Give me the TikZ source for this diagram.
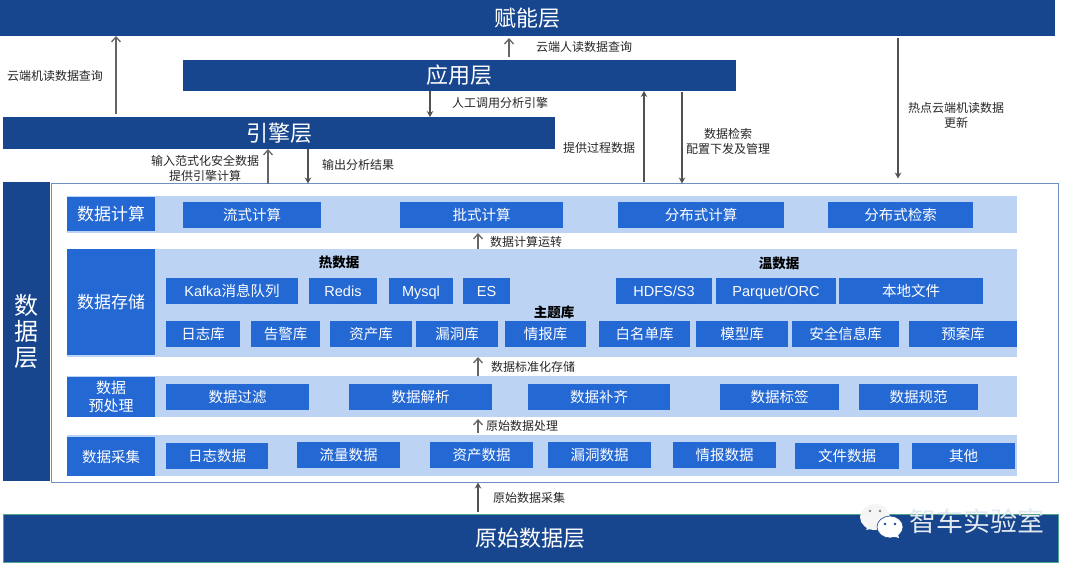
\documentclass[tikz,border=0pt]{standalone}
\usepackage{fontspec}
\setmainfont{Noto Sans CJK SC}
\newfontfamily\latin{Liberation Sans}
\usetikzlibrary{arrows.meta, positioning}
\definecolor{navy}{HTML}{17468F}
\definecolor{chipblue}{HTML}{2468D4}
\definecolor{lightblue}{HTML}{BDD3F3}
\definecolor{framecol}{HTML}{6F8FC4}
\definecolor{arrowcol}{HTML}{666666}
\definecolor{rawrim}{HTML}{4FA58C}
\tikzstyle{layer} = [fill=navy, text=white, inner sep=0pt, outer sep=0pt, font=\fontsize{22}{26}\selectfont]
\tikzstyle{band} = [fill=lightblue, inner sep=0pt, outer sep=0pt]
\tikzstyle{head} = [fill=chipblue, text=white, inner sep=0pt, outer sep=0pt, minimum width=88pt, align=center, font=\fontsize{15}{18}\selectfont]
\tikzstyle{chip} = [fill=chipblue, text=white, inner sep=0pt, outer sep=0pt, minimum height=26pt, text height=13pt, text depth=2pt, font=\fontsize{14.5}{17}\selectfont]
\tikzstyle{title} = [inner sep=0pt, font=\fontsize{13.5}{16}\bfseries\selectfont]
\tikzstyle{note} = [inner sep=0pt, align=center, text=black!85, font=\fontsize{12}{15}\selectfont]
\tikzstyle{arrow} = [-{Straight Barb[length=5pt, width=9pt]}, arrowcol, line width=1.3pt]
\tikzstyle{arrowb} = [-{Stealth[length=6pt, width=6.5pt]}, arrowcol!80!black, line width=1.2pt]

\begin{document}
\begin{tikzpicture}[x=1pt, y=-1pt]
    \useasboundingbox (0,0) rectangle (1080,570);

    % Place the layers
    \node [layer, minimum width=1055pt, minimum height=36pt] (enable) at (527.5,18) {赋能层};
    \node [layer, minimum width=553pt, minimum height=31pt] (app) at (459.5,75.5) {应用层};
    \node [layer, minimum width=552pt, minimum height=32pt] (engine) at (279,133) {引擎层};
    \node [layer, draw=framecol, fill=white, line width=1pt, minimum width=1007pt, minimum height=299pt] (databox) at (554.5,333) {};
    \node [layer, minimum width=47pt, minimum height=299pt, align=center, font=\fontsize{24}{26}\selectfont] (data) at (26.5,331.5) {数\\据\\层};
    \node [layer, draw=rawrim, line width=0.6pt, minimum width=1055pt, minimum height=48pt] (raw) at (530.5,538) {原始数据层};

    % Place the bands and their heads
    \node [band, minimum width=950pt, minimum height=37pt] (calcband) at (542,214.5) {};
    \node [band, minimum width=950pt, minimum height=108pt] (storeband) at (542,303) {};
    \node [band, minimum width=950pt, minimum height=41pt] (preband) at (542,396.5) {};
    \node [band, minimum width=950pt, minimum height=41pt] (collectband) at (542,455.5) {};
    \node [head, minimum height=34pt, font=\fontsize{17}{20}\selectfont] (calc) at (111,214) {数据计算};
    \node [head, minimum height=106pt, font=\fontsize{17}{20}\selectfont] (store) at (111,302) {数据存储};
    \node [head, minimum height=40pt] (pre) at (111,397) {数据\\预处理};
    \node [head, minimum height=39pt, font=\fontsize{14.5}{17}\selectfont] (collect) at (111,456.5) {数据采集};

    % Data compute row
    \node [chip, minimum width=138pt] (c1) at (252,214.5) {流式计算};
    \node [chip, minimum width=163pt, right=79pt of c1] (c2) {批式计算};
    \node [chip, minimum width=166pt, right=55pt of c2, yshift=-0.5pt] (c3) {分布式计算};
    \node [chip, minimum width=145pt, right=44pt of c3, yshift=0.5pt] (c4) {分布式检索};

    % Hot and warm data row
    \node [title] (hot) at (339,262) {热数据};
    \node [title] (warm) at (779,263) {温数据};
    \node [chip, minimum width=132pt] (s1) at (232,291) {{\latin Kafka}消息队列};
    \node [chip, minimum width=68pt, right=11pt of s1] (s2) {\latin Redis};
    \node [chip, minimum width=64pt, right=12pt of s2] (s3) {\latin Mysql};
    \node [chip, minimum width=47pt, right=10pt of s3] (s4) {\latin ES};
    \node [chip, minimum width=96pt, right=106pt of s4] (s5) {\latin HDFS/S3};
    \node [chip, minimum width=120pt, right=4pt of s5] (s6) {\latin Parquet/ORC};
    \node [chip, minimum width=144pt, right=3pt of s6] (s7) {本地文件};

    % Theme library row
    \node [title] (theme) at (554,312) {主题库};
    \node [chip, minimum width=74pt] (t1) at (203,334) {日志库};
    \node [chip, minimum width=69pt, right=11pt of t1] (t2) {告警库};
    \node [chip, minimum width=82pt, right=10pt of t2] (t3) {资产库};
    \node [chip, minimum width=82pt, right=4pt of t3] (t4) {漏洞库};
    \node [chip, minimum width=81pt, right=7pt of t4] (t5) {情报库};
    \node [chip, minimum width=91pt, right=13pt of t5] (t6) {白名单库};
    \node [chip, minimum width=92pt, right=6pt of t6] (t7) {模型库};
    \node [chip, minimum width=107pt, right=4pt of t7] (t8) {安全信息库};
    \node [chip, minimum width=108pt, right=10pt of t8] (t9) {预案库};

    % Preprocess row
    \node [chip, minimum width=143pt] (p1) at (237.5,397) {数据过滤};
    \node [chip, minimum width=143pt, right=40pt of p1] (p2) {数据解析};
    \node [chip, minimum width=142pt, right=36pt of p2] (p3) {数据补齐};
    \node [chip, minimum width=119pt, right=50pt of p3] (p4) {数据标签};
    \node [chip, minimum width=119pt, right=20pt of p4] (p5) {数据规范};

    % Collect row
    \node [chip, minimum width=102pt] (d1) at (217,456) {日志数据};
    \node [chip, minimum width=103pt, right=29pt of d1, yshift=1pt] (d2) {流量数据};
    \node [chip, minimum width=103pt, right=30pt of d2] (d3) {资产数据};
    \node [chip, minimum width=103pt, right=15pt of d3] (d4) {漏洞数据};
    \node [chip, minimum width=103pt, right=22pt of d4] (d5) {情报数据};
    \node [chip, minimum width=104pt, right=19pt of d5, yshift=-1pt] (d6) {文件数据};
    \node [chip, minimum width=103pt, right=13pt of d6] (d7) {其他};

    % Guides for the vertical connectors
    \coordinate (xmachine) at (116,0);
    \coordinate (xhuman) at (509,0);
    \coordinate (xcall) at (430,0);
    \coordinate (xinput) at (268,0);
    \coordinate (xoutput) at (308,0);
    \coordinate (xprocess) at (644,0);
    \coordinate (xconfig) at (682,0);
    \coordinate (xhot) at (898,0);
    \coordinate (xflow) at (478,0);

    % Connect the nodes
    \draw [arrow, shorten <=3pt] (engine.north -| xmachine) -- (enable.south -| xmachine);
    \draw [arrow, shorten <=3pt, shorten >=2pt] (app.north -| xhuman) -- (enable.south -| xhuman);
    \draw [arrowb] (app.south -| xcall) -- (engine.north -| xcall);
    \draw [arrow] (databox.north -| xinput) -- (engine.south -| xinput);
    \draw [arrowb] (engine.south -| xoutput) -- (databox.north -| xoutput);
    \draw [arrowb, shorten <=2pt] (databox.north -| xprocess) -- (app.south -| xprocess);
    \draw [arrowb, shorten <=1pt] (app.south -| xconfig) -- (databox.north -| xconfig);
    \draw [arrowb, shorten <=2pt, shorten >=5pt] (enable.south -| xhot) -- (databox.north -| xhot);
    \draw [arrow] (storeband.north -| xflow) -- (calcband.south -| xflow);
    \draw [arrow] (preband.north -| xflow) -- (storeband.south -| xflow);
    \draw [arrow, shorten <=2pt, shorten >=2pt] (collectband.north -| xflow) -- (preband.south -| xflow);
    \draw [arrowb, shorten <=2pt] (raw.north -| xflow) -- (databox.south -| xflow);

    % Connector labels
    \node [note] (lmachine) at (55,76) {云端机读数据查询};
    \node [note] (lhuman) at (584,47) {云端人读数据查询};
    \node [note] (lcall) at (500,103) {人工调用分析引擎};
    \node [note] (linput) at (205,168.5) {输入范式化安全数据\\提供引擎计算};
    \node [note] (loutput) at (358,165) {输出分析结果};
    \node [note] (lprocess) at (599,148) {提供过程数据};
    \node [note] (lconfig) at (728,141) {数据检索\\配置下发及管理};
    \node [note] (lhot) at (956,115) {热点云端机读数据\\更新};
    \node [note] (lflow) at (526,242) {数据计算运转};
    \node [note] (lstore) at (533,367) {数据标准化存储};
    \node [note] (lorig) at (522,426) {原始数据处理};
    \node [note] (lcollect) at (529,498) {原始数据采集};

    % Watermark
    \fill [white!92!gray] (875,517) ellipse (15 and 13);
    \fill [white!92!gray] (866,530) -- (869,524) -- (875,528) -- cycle;
    \filldraw [fill=white, draw=navy, line width=0.6pt] (890,527) ellipse (13 and 11);
    \fill [white] (899,538) -- (897,531) -- (892,536) -- cycle;
    \fill [gray] (870,511) circle (1.4) (880,511) circle (1.4);
    \fill [navy] (885,524) circle (1.4) (895,524) circle (1.4);
    \node [inner sep=0pt, text=white!88!navy, font=\fontsize{27}{30}\selectfont] (mark) at (977,521) {智车实验室};
  \end{tikzpicture}
\end{document}
